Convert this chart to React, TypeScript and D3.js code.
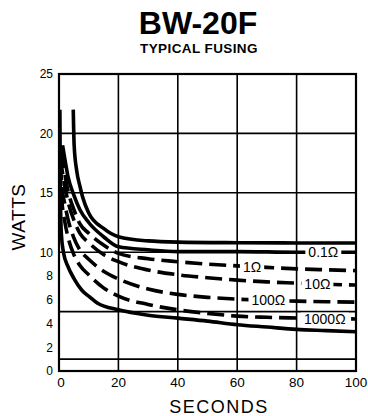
import React, { useEffect, useRef } from "react";
import * as d3 from "d3";

// seconds / watts
const upperBound: [number, number][] = [
  [4.8, 22], [5.1, 19], [6, 16.8], [7, 15.6], [8, 14.6], [10, 13.3], [15, 12.0],
  [20, 11.3], [30, 10.95], [40, 10.85], [60, 10.8], [80, 10.78], [100, 10.77]
];
const ohm01: [number, number][] = [
  [1.2, 19], [2, 17.8], [3, 16.4], [5, 14.8], [7, 13.6], [10, 12.5], [15, 11.3],
  [20, 10.45], [30, 10.2], [40, 10.05], [60, 10.05], [80, 10.0], [100, 10.0]
];
const ohm1: [number, number][] = [
  [0.7, 18.5], [1, 18], [2, 16.5], [3, 15.2], [5, 13.6], [7, 12.4], [10, 11.6],
  [15, 10.6], [20, 9.9], [30, 9.45], [40, 9.2], [50, 9.0], [60, 8.85], [70, 8.72],
  [80, 8.6], [90, 8.52], [100, 8.45]
];
const ohm10: [number, number][] = [
  [0.5, 18], [1, 17], [2, 15.5], [3, 14.3], [5, 12.7], [7, 11.6], [10, 10.8],
  [15, 9.8], [20, 9.2], [30, 8.5], [40, 8.1], [50, 7.85], [60, 7.65], [70, 7.5],
  [80, 7.4], [90, 7.3], [100, 7.24]
];
const ohm100: [number, number][] = [
  [0.4, 17.5], [0.7, 16.5], [1, 15.5], [2, 14], [3, 12.8], [5, 11.2], [7, 10.2],
  [10, 9.4], [15, 8.4], [20, 7.75], [30, 6.9], [40, 6.45], [50, 6.2], [60, 6.05],
  [70, 5.95], [80, 5.88], [90, 5.83], [100, 5.8]
];
const ohm1000: [number, number][] = [
  [0.35, 17], [0.6, 15.5], [1, 14.2], [2, 12.5], [3, 11.3], [5, 9.8], [7, 8.9],
  [10, 8.1], [15, 7.0], [20, 6.3], [30, 5.6], [40, 5.15], [50, 4.85], [60, 4.62],
  [70, 4.52], [80, 4.46], [90, 4.41], [100, 4.38]
];
const lowerBound: [number, number][] = [
  [0.3, 22], [0.45, 15], [0.8, 11.5], [1.5, 10], [3, 8.8], [5, 7.8], [7.7, 6.8],
  [10, 6.3], [13, 5.7], [20, 5.15], [30, 4.7], [40, 4.45], [50, 4.2], [60, 3.9],
  [70, 3.7], [80, 3.5], [90, 3.4], [100, 3.3]
];

const xTicks = [0, 20, 40, 60, 80, 100];
const yTicks = [0, 2, 4, 6, 8, 10, 15, 20, 25];
const xGrid = [20, 40, 60, 80];
const yGrid = [1, 5, 10, 15, 20];

const curves = [
  { data: upperBound, dashed: false, label: null, at: 0 },
  { data: ohm01, dashed: false, label: "0.1Ω", at: 89 },
  { data: ohm1, dashed: true, label: "1Ω", at: 65 },
  { data: ohm10, dashed: true, label: "10Ω", at: 87 },
  { data: ohm100, dashed: true, label: "100Ω", at: 70.5 },
  { data: ohm1000, dashed: true, label: "1000Ω", at: 89.5 },
  { data: lowerBound, dashed: false, label: null, at: 0 }
];

const W = 368,
  H = 416;
const font = "'Liberation Sans', Arial, sans-serif";

function valueAt(data: [number, number][], t: number) {
  const xs = data.map(d => d[0]);
  const ys = data.map(d => d[1]);
  return d3.scaleLinear().domain(xs).range(ys)(t);
}

export default function App() {
  const svgRef = useRef<SVGSVGElement>(null);

  useEffect(() => {
    const svg = d3.select(svgRef.current);
    svg.selectAll("*").remove();

    const x = d3.scaleLinear().domain([0, 100]).range([59, 356]);
    const y = d3.scaleLinear().domain([0, 25]).range([371, 74]);

    svg
      .append("text")
      .attr("x", 198)
      .attr("y", 34)
      .attr("text-anchor", "middle")
      .style("font", "bold 32px " + font)
      .text("BW-20F");

    svg
      .append("text")
      .attr("x", 199)
      .attr("y", 53)
      .attr("text-anchor", "middle")
      .style("font", "bold 13.5px " + font)
      .style("letter-spacing", "0.4px")
      .text("TYPICAL FUSING");

    const grid = svg.append("g").attr("stroke", "#000").attr("stroke-width", 1.6);
    grid
      .selectAll(".vg")
      .data(xGrid)
      .enter()
      .append("line")
      .attr("x1", d => x(d))
      .attr("x2", d => x(d))
      .attr("y1", y(25))
      .attr("y2", y(0));
    grid
      .selectAll(".hg")
      .data(yGrid)
      .enter()
      .append("line")
      .attr("x1", x(0))
      .attr("x2", x(100))
      .attr("y1", d => y(d))
      .attr("y2", d => y(d));

    const line = d3
      .line<[number, number]>()
      .x(d => x(d[0]))
      .y(d => y(d[1]))
      .curve(d3.curveMonotoneX);

    svg
      .append("g")
      .selectAll("path")
      .data(curves)
      .enter()
      .append("path")
      .attr("d", d => line(d.data))
      .attr("fill", "none")
      .attr("stroke", "#000")
      .attr("stroke-width", 3.6)
      .attr("stroke-dasharray", d => (d.dashed ? "17 7" : null));

    // border on top of curves
    svg
      .append("rect")
      .attr("x", x(0))
      .attr("y", y(25))
      .attr("width", x(100) - x(0))
      .attr("height", y(0) - y(25))
      .attr("fill", "none")
      .attr("stroke", "#000")
      .attr("stroke-width", 2.2);

    const labels = svg.append("g");
    curves
      .filter(c => c.label)
      .forEach(c => {
        const g = labels.append("g");
        const cx = x(c.at);
        const cy = y(valueAt(c.data, c.at));
        const bg = g.append("rect").attr("fill", "#fff");
        const t = g
          .append("text")
          .attr("x", cx)
          .attr("y", cy)
          .attr("dy", "0.36em")
          .attr("text-anchor", "middle")
          .style("font", "14px " + font)
          .text(c.label as string);
        const bb = (t.node() as SVGTextElement).getBBox();
        bg.attr("x", bb.x - 3)
          .attr("y", cy - 6)
          .attr("width", bb.width + 6)
          .attr("height", 12);
      });

    svg
      .append("g")
      .selectAll("text")
      .data(yTicks)
      .enter()
      .append("text")
      .attr("x", 53)
      .attr("y", d => y(d))
      .attr("dy", "0.36em")
      .attr("text-anchor", "end")
      .style("font", "12px " + font)
      .text(d => d);

    svg
      .append("g")
      .selectAll("text")
      .data(xTicks)
      .enter()
      .append("text")
      .attr("x", d => x(d) + (d === 0 ? 2 : 0))
      .attr("y", 387)
      .attr("text-anchor", "middle")
      .style("font", "13.5px " + font)
      .text(d => d);

    svg
      .append("text")
      .attr("x", 219)
      .attr("y", 413)
      .attr("text-anchor", "middle")
      .style("font", "18px " + font)
      .style("letter-spacing", "1.5px")
      .text("SECONDS");

    svg
      .append("text")
      .attr("transform", "translate(25,217) rotate(-90)")
      .attr("text-anchor", "middle")
      .style("font", "19px " + font)
      .style("letter-spacing", "0.5px")
      .text("WATTS");
  }, []);

  return (
    <svg
      ref={svgRef}
      width={W}
      height={H}
      style={{ position: "absolute", left: 0, top: 0, background: "#fff" }}
    />
  );
}
